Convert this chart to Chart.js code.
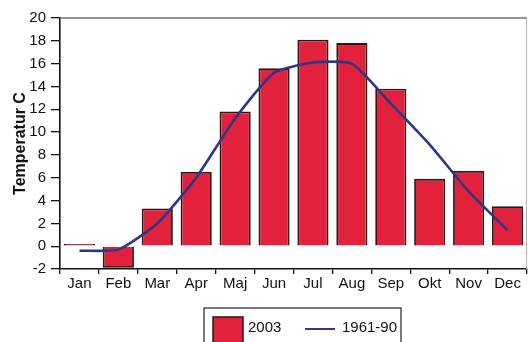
<!DOCTYPE html>
<html>
<head>
<meta charset="utf-8">
<script src="https://cdn.jsdelivr.net/npm/chart.js@4/dist/chart.umd.min.js"></script>
<style>
  html, body { margin: 0; padding: 0; background: #fff; overflow: hidden; }
  #wrap { width: 528px; height: 342px; }
</style>
</head>
<body>
<div id="wrap"><canvas id="c" width="528" height="342"></canvas></div>
<script>
// Monthly mean temperature (°C): year 2003 against the 1961-90 normal
const months = ['Jan', 'Feb', 'Mar', 'Apr', 'Maj', 'Jun', 'Jul', 'Aug', 'Sep', 'Okt', 'Nov', 'Dec'];
const temp2003 = [0.2, -1.9, 3.3, 6.5, 11.8, 15.6, 18.1, 17.8, 13.8, 5.9, 6.6, 3.5];
const normal6190 = [-0.4, -0.3, 2.0, 6.0, 11.2, 15.2, 16.1, 16.0, 12.5, 8.9, 4.8, 1.4];
const yTicks = [-2, 0, 2, 4, 6, 8, 10, 12, 14, 16, 18, 20];

const FONT = 'Liberation Sans, Arial, sans-serif';
const BAR_FILL = '#e2223c';
const BAR_EDGE = '#2e1416';
const LINE_COLOR = '#2c3886';

// Frame lines on top/right of the plot and a boxed legend beneath it
const framePlugin = {
  id: 'frameAndLegend',
  afterDraw(chart) {
    const { ctx, chartArea: a } = chart;
    ctx.save();
    ctx.strokeStyle = '#6f6f6f';
    ctx.lineWidth = 1.5;
    ctx.beginPath();
    ctx.moveTo(a.left, a.top);
    ctx.lineTo(a.right, a.top);
    ctx.stroke();
    ctx.strokeStyle = '#b5b5b5';
    ctx.lineWidth = 1;
    ctx.beginPath();
    ctx.moveTo(a.right - 0.5, a.top);
    ctx.lineTo(a.right - 0.5, a.bottom);
    ctx.stroke();

    // legend
    const ds = chart.data.datasets;
    const lx = a.left + 144, ly = a.bottom + 39;
    const lw = 197, lh = 40;
    ctx.strokeStyle = '#222';
    ctx.lineWidth = 1.2;
    ctx.strokeRect(lx, ly, lw, lh);

    ctx.font = '15px ' + FONT;
    ctx.textBaseline = 'middle';
    const cy = ly + 20;
    // bar swatch
    ctx.fillStyle = ds[0].backgroundColor;
    ctx.fillRect(lx + 9, ly + 9, 30, 26);
    ctx.strokeStyle = BAR_EDGE;
    ctx.lineWidth = 1.5;
    ctx.strokeRect(lx + 9, ly + 9, 30, 26);
    ctx.fillStyle = '#111';
    ctx.fillText(ds[0].label, lx + 44, cy);
    // line swatch
    ctx.strokeStyle = ds[1].borderColor;
    ctx.lineWidth = 2;
    ctx.beginPath();
    ctx.moveTo(lx + 101, cy + 1);
    ctx.lineTo(lx + 131, cy + 1);
    ctx.stroke();
    ctx.fillText(ds[1].label, lx + 138, cy);
    ctx.restore();
  }
};

new Chart(document.getElementById('c'), {
  data: {
    labels: months,
    datasets: [
      {
        type: 'bar',
        label: '2003',
        data: temp2003,
        backgroundColor: BAR_FILL,
        borderColor: BAR_EDGE,
        borderWidth: 1.8,
        barPercentage: 0.8,
        categoryPercentage: 1.0,
        order: 1
      },
      {
        type: 'line',
        label: '1961-90',
        data: normal6190,
        borderColor: LINE_COLOR,
        borderWidth: 2.6,
        pointRadius: 0,
        tension: 0.18,
        fill: false,
        order: 0
      }
    ]
  },
  options: {
    responsive: false,
    animation: false,
    events: [],
    layout: { padding: { top: 18, right: 1, left: 0, bottom: 0 } },
    plugins: {
      legend: { display: false },
      tooltip: { enabled: false }
    },
    scales: {
      x: {
        grid: {
          offset: true,
          drawOnChartArea: false,
          drawTicks: true,
          tickLength: 5,
          color: '#111',
          lineWidth: 1.3
        },
        border: { display: true, color: '#111', width: 1.6 },
        ticks: {
          color: '#111',
          padding: 1,
          maxRotation: 0,
          autoSkip: false,
          font: { family: FONT, size: 15 }
        },
        afterFit(scale) { scale.height = 73; }
      },
      y: {
        min: -2,
        max: 20,
        afterBuildTicks(scale) { scale.ticks = yTicks.map(v => ({ value: v })); },
        grid: {
          drawOnChartArea: false,
          drawTicks: true,
          tickLength: 9,
          color: '#111',
          lineWidth: 1.3
        },
        border: { display: true, color: '#111', width: 1.6 },
        ticks: {
          color: '#111',
          padding: 5,
          font: { family: FONT, size: 15 }
        },
        title: {
          display: true,
          text: 'Temperatur C',
          color: '#111',
          padding: { top: 11, bottom: 0 },
          font: { family: FONT, size: 16, weight: 'bold' }
        },
        afterFit(scale) { scale.width = 60; }
      }
    }
  },
  plugins: [framePlugin]
});
</script>
</body>
</html>
